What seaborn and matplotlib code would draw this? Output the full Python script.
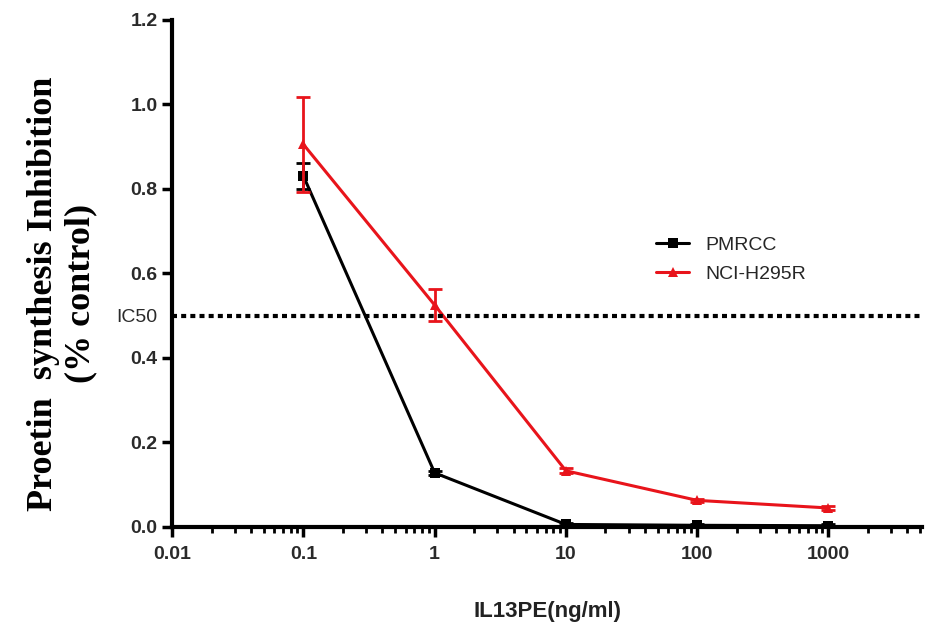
import numpy as np
import pandas as pd
import matplotlib.pyplot as plt
import seaborn as sns

# concentrations (ng/ml)
dose = [0.1, 1, 10, 100, 1000]
# inhibition (fraction of control)
pmrcc = [0.83, 0.128, 0.006, 0.004, 0.003]
pmrcc_err = [0.03, 0.005, 0.004, 0.003, 0.003]
nci = [0.905, 0.525, 0.133, 0.063, 0.045]
nci_err = [0.113, 0.038, 0.006, 0.004, 0.004]

series = ['PMRCC', 'NCI-H295R']
colors = {'PMRCC': '#000000', 'NCI-H295R': '#e8141b'}
markers = {'PMRCC': 's', 'NCI-H295R': '^'}

df = pd.DataFrame({
    'dose': dose * 2,
    'value': pmrcc + nci,
    'err': pmrcc_err + nci_err,
    'cell': ['PMRCC'] * 5 + ['NCI-H295R'] * 5,
})

sns.set_style('ticks')
plt.rcParams['font.family'] = ['Liberation Sans', 'DejaVu Sans']
fig = plt.figure(figsize=(9.26, 6.38), dpi=100)
ax = fig.add_axes([0.186, 0.174, 0.81, 0.795])

sns.lineplot(data=df, x='dose', y='value', hue='cell', style='cell',
             palette=colors, markers=markers, dashes=False, hue_order=series,
             style_order=series, linewidth=2.2, markersize=7,
             markeredgewidth=0, ax=ax)

for name in series:
    d = df[df['cell'] == name]
    ax.errorbar(d['dose'], d['value'], yerr=d['err'], fmt='none',
                ecolor=colors[name], elinewidth=2, capsize=5, capthick=2)

# IC50 reference line
ax.axhline(0.5, color='black', linestyle=(0, (1.2, 1.0)), linewidth=3)

ax.set_xscale('log')
ax.set_xlim(0.01, 5200)
ax.set_ylim(0, 1.2)
ax.set_xticks([0.01, 0.1, 1, 10, 100, 1000])
ax.set_xticklabels(['0.01', '0.1', '1', '10', '100', '1000'])
ax.set_yticks([0.0, 0.2, 0.4, 0.5, 0.6, 0.8, 1.0, 1.2])
ax.set_yticklabels(['0.0', '0.2', '0.4', 'IC50', '0.6', '0.8', '1.0', '1.2'])
ax.tick_params(axis='both', which='major', width=2.5, length=7,
               labelsize=14, direction='out', color='black',
               labelcolor='#2a2a2a')
ax.tick_params(axis='x', which='minor', width=2, length=4, color='black')
ax.tick_params(axis='x', pad=7)
for lbl in ax.get_xticklabels() + ax.get_yticklabels():
    if lbl.get_text() != 'IC50':
        lbl.set_fontweight('bold')
ax.yaxis.get_major_ticks()[3].tick1line.set_visible(False)
sns.despine(ax=ax)
for s in ['left', 'bottom']:
    ax.spines[s].set_linewidth(3)
    ax.spines[s].set_color('black')

ax.set_xlabel('IL13PE(ng/ml)', fontsize=16, fontweight='bold', labelpad=27,
              color='#222222')
ax.set_ylabel('Proetin  synthesis Inhibition\n(% control)', fontsize=26,
              fontweight='bold', family='Liberation Serif',
              linespacing=1.15, color='black')
ax.yaxis.set_label_coords(-0.1, 0.46)

leg = ax.legend(loc='center left', bbox_to_anchor=(0.622, 0.527),
                frameon=False, fontsize=14, handlelength=1.7,
                labelspacing=0.6)
leg.set_title(None)

fig.savefig('out.png', dpi=100)
